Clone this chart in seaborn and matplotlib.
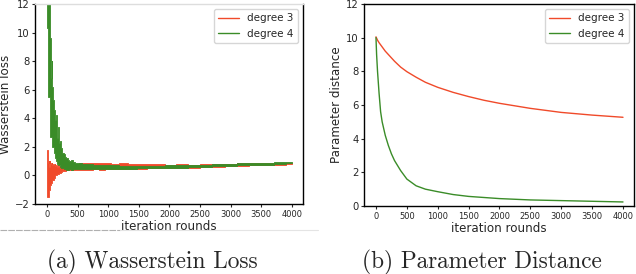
import matplotlib
matplotlib.use('Agg')
import matplotlib.pyplot as plt
from matplotlib.lines import Line2D
import pandas as pd
import seaborn as sns

# Wasserstein loss: noisy band, read as upper/lower envelope per iteration
it_loss = [0, 10, 20, 30, 40, 50, 60, 70, 80, 90,
           100, 115, 130, 145, 160, 175, 190, 205, 220, 240,
           260, 280, 300, 325, 350, 380, 410, 440, 470, 500,
           550, 600, 700, 800, 900, 1000, 1100, 1250, 1400, 1550,
           1700, 1850, 2000, 2200, 2400, 2600, 2800, 3000, 3200, 3400,
           3600, 3800, 4000]
deg4_hi = [14, 14, 14, 14, 13, 9.6, 9.6, 6.8, 8.0, 6.2,
           5.3, 4.6, 4.4, 3.9, 4.2, 2.6, 3.4, 2.3, 2.4, 1.9,
           1.6, 1.5, 1.3, 1.2, 1.1, 1.0, 1.05, 0.95, 0.9, 0.9,
           0.85, 0.8, 0.8, 0.75, 0.75, 0.7, 0.7, 0.68, 0.68, 0.66,
           0.66, 0.67, 0.7, 0.72, 0.74, 0.76, 0.8, 0.82, 0.84, 0.86,
           0.9, 0.93, 0.97]
deg4_lo = [10.3, 10.3, 5.5, 5.5, 5.5, 2.7, 2.7, 2.7, 2.2, 2.0,
           2.0, 1.6, 1.3, 1.2, 1.0, 0.8, 0.75, 0.7, 0.6, 0.55,
           0.5, 0.45, 0.45, 0.4, 0.4, 0.42, 0.4, 0.42, 0.42, 0.43,
           0.44, 0.45, 0.45, 0.46, 0.46, 0.47, 0.47, 0.48, 0.48, 0.5,
           0.5, 0.52, 0.53, 0.55, 0.57, 0.6, 0.63, 0.66, 0.7, 0.73,
           0.76, 0.8, 0.85]
deg3_hi = [0.7, 1.8, 0.9, 1.0, 0.6, 1.0, 0.9, 0.8, 0.9, 0.7,
           0.8, 0.7, 0.8, 0.65, 0.7, 0.6, 0.7, 0.62, 0.65, 0.6,
           0.7, 0.62, 0.7, 0.65, 0.75, 0.7, 0.8, 0.75, 0.82, 0.8,
           0.85, 0.9, 0.85, 0.88, 0.85, 0.9, 0.8, 0.85, 0.8, 0.82,
           0.78, 0.8, 0.76, 0.78, 0.75, 0.78, 0.8, 0.82, 0.85, 0.86,
           0.88, 0.9, 0.9]
deg3_lo = [-0.5, -1.5, -1.5, -1.3, -1.0, -0.8, -0.7, -0.5, -0.5, -0.3,
           -0.3, -0.2, -0.1, 0.0, 0.0, 0.1, 0.1, 0.2, 0.2, 0.25,
           0.3, 0.3, 0.3, 0.35, 0.35, 0.35, 0.35, 0.38, 0.36, 0.38,
           0.38, 0.4, 0.4, 0.42, 0.4, 0.42, 0.45, 0.45, 0.47, 0.48,
           0.5, 0.5, 0.52, 0.53, 0.55, 0.58, 0.6, 0.63, 0.66, 0.7,
           0.73, 0.76, 0.8]

# Parameter distance curves
it_d3 = [0, 25, 50, 100, 150, 200, 300, 400, 500, 650,
         800, 1000, 1250, 1500, 1750, 2000, 2500, 3000, 3500, 4000]
dist_d3 = [10.05, 9.85, 9.7, 9.45, 9.2, 9.0, 8.6, 8.25, 7.98, 7.65,
           7.35, 7.05, 6.75, 6.5, 6.28, 6.1, 5.8, 5.56, 5.4, 5.27]
it_d4 = [0, 10, 25, 50, 75, 100, 150, 200, 250, 300, 400,
         500, 650, 800, 1000, 1250, 1500, 2000, 2500, 3000, 3500, 4000]
dist_d4 = [10.0, 9.0, 8.0, 6.7, 5.6, 5.0, 4.2, 3.6, 3.1, 2.7, 2.1,
           1.6, 1.2, 1.0, 0.85, 0.68, 0.57, 0.44, 0.36, 0.32, 0.28, 0.24]

labels = ['degree 3', 'degree 4']
RED = '#f04a2a'
GREEN = '#3a8c28'
xticks = list(range(0, 4001, 500))

sns.set_style('ticks')
plt.rcParams['font.family'] = ['DejaVu Sans']

fig = plt.figure(figsize=(6.36, 2.74), dpi=100)

# (a) Wasserstein loss
ax1 = fig.add_axes([35/636, 1 - 204/274, 268/636, 200/274])
ax1.fill_between(it_loss, deg3_lo, deg3_hi, step='mid', color=RED, lw=0.6, edgecolor=RED)
ax1.fill_between(it_loss, deg4_lo, deg4_hi, step='mid', color=GREEN, lw=0.6, edgecolor=GREEN)
ax1.set_xlim(-196, 4180)
ax1.set_ylim(-2, 12)
ax1.set_yticks(range(-2, 13, 2))
ax1.set_xticks(xticks)
ax1.set_xlabel('iteration rounds', fontsize=8.6, labelpad=1)
ax1.set_ylabel('Wasserstein loss', fontsize=8.6, labelpad=2)
handles = [Line2D([], [], color=RED, lw=1), Line2D([], [], color=GREEN, lw=1)]
ax1.legend(handles, labels, loc='upper right', fontsize=7.5, frameon=True,
           fancybox=True, edgecolor='#cccccc', framealpha=0.8)

# (b) Parameter distance
ax2 = fig.add_axes([364/636, 1 - 206/274, 270/636, 202/274])
sns.lineplot(x=it_d3, y=dist_d3, ax=ax2, color=RED, lw=1, label=labels[0])
sns.lineplot(x=it_d4, y=dist_d4, ax=ax2, color=GREEN, lw=1, label=labels[1])
ax2.set_xlim(-194, 4178)
ax2.set_ylim(0, 12)
ax2.set_yticks(range(0, 13, 2))
ax2.set_xticks(xticks)
ax2.set_xlabel('iteration rounds', fontsize=8.6, labelpad=1)
ax2.set_ylabel('Parameter distance', fontsize=8.6, labelpad=2)
ax2.legend(loc='upper right', fontsize=7.5, frameon=True, fancybox=True,
           edgecolor='#cccccc', framealpha=0.8)

for ax in (ax1, ax2):
    ax.tick_params(axis='x', labelsize=6, length=2.5, pad=1.5, width=0.8)
    ax.tick_params(axis='y', labelsize=7.2, length=2.5, pad=1.5, width=0.8)
    for s in ax.spines.values():
        s.set_color('black')
        s.set_linewidth(1.0)
ax1.spines['top'].set_color('#dddddd')

# sub-captions
fig.text(152/636, 1 - 262/274, '(a) Wasserstein Loss', family='cmr10',
         fontsize=16.8, ha='center', va='center')
fig.text(482/636, 1 - 262/274, '(b) Parameter Distance', family='cmr10',
         fontsize=16.8, ha='center', va='center')

# faint separator lines under the left panel
fig.add_artist(Line2D([0, 120/636], [1 - 230/274] * 2, color='#b0b0b0',
                      lw=0.8, ls=(0, (6, 1))))
fig.add_artist(Line2D([120/636, 318/636], [1 - 230/274] * 2, color='#e4e4e4', lw=0.8))

fig.savefig('out.png', dpi=100)
